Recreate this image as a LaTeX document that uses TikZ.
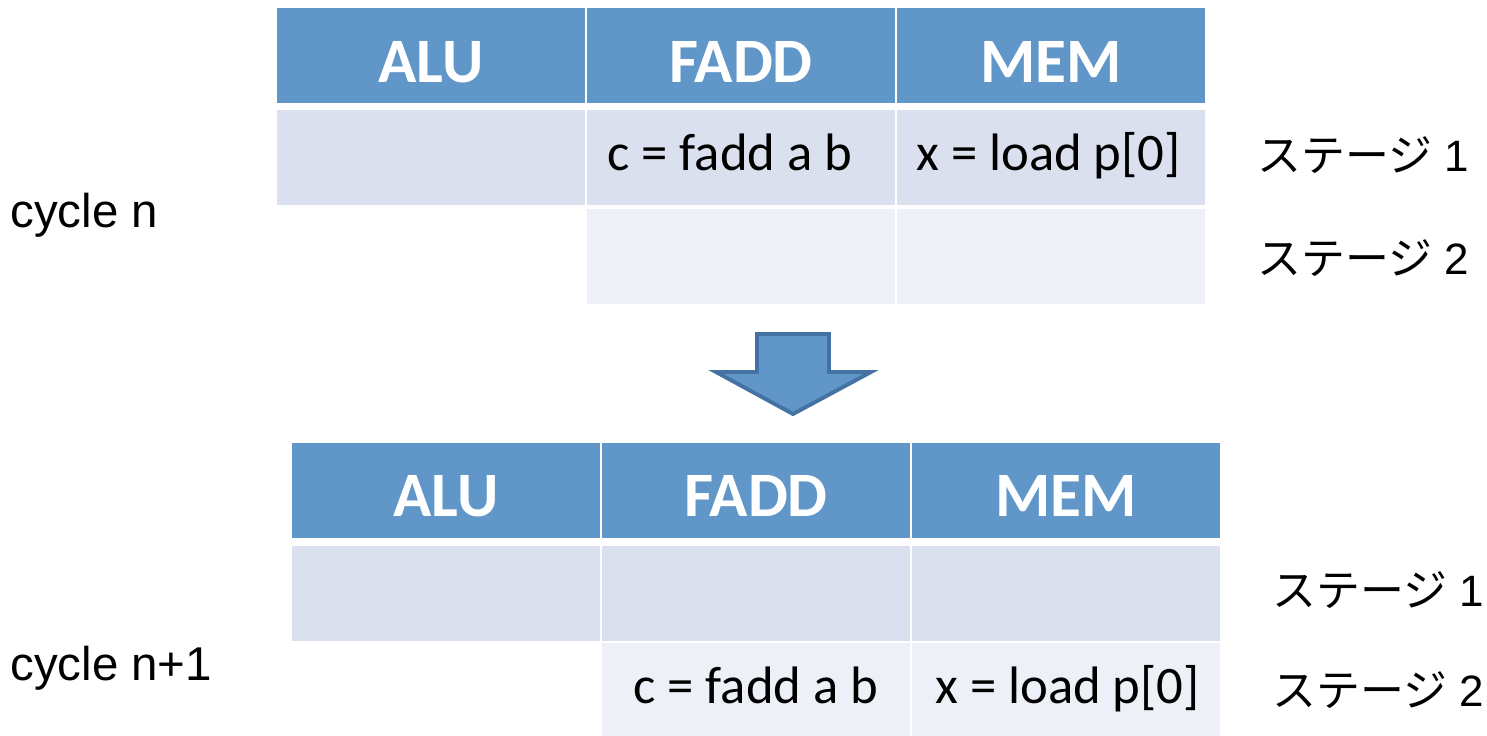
\documentclass[tikz,border=0pt]{standalone}
\usepackage{fontspec}
\setmainfont{Carlito}
\newfontfamily\jpfont{Noto Sans CJK JP}
\newfontfamily\arialfont{Liberation Sans}
\usepackage{tikz}
\usetikzlibrary{positioning}

\definecolor{HeadBlue}{RGB}{96,150,200}
\definecolor{RowDark}{RGB}{218,224,237}
\definecolor{RowLight}{RGB}{237,240,246}
\definecolor{ArrowEdge}{RGB}{68,114,163}

\tikzset{
  cell/.style={minimum width=6.16cm, minimum height=1.9cm, inner sep=0pt},
  head/.style={cell, fill=HeadBlue, text=white, text height=1.06cm, text depth=0pt,
    font=\fontsize{36}{41}\selectfont\bfseries},
  rowa/.style={cell, fill=RowDark},
  rowb/.style={cell, fill=RowLight},
  code/.style={anchor=base west, inner sep=0pt, font=\fontsize{30}{36}\selectfont},
  cyc/.style={anchor=base west, inner sep=0pt, font=\arialfont\fontsize{27}{32}\selectfont},
  stage/.style={anchor=base west, inner sep=0pt, font=\arialfont\fontsize{25}{30}\selectfont}
}
\newcommand{\stagename}[1]{{\jpfont ステージ}\ #1}

\begin{document}
\begin{tikzpicture}[x=0.02cm, y=-0.02cm]
    \useasboundingbox (0,0) rectangle (1487,735);

    %% cycle n
    \node[head] (ta) at (431,55.5) {ALU};
    \node at (ta) [head, xshift=6.2cm] (tf) {FADD};
    \node at (tf) [head, xshift=6.2cm] (tm) {MEM};
    \node at (ta) [rowa, yshift=-2.05cm] (ta1) {};
    \node at (tf) [rowa, yshift=-2.05cm] (tf1) {};
    \node at (tm) [rowa, yshift=-2.05cm] (tm1) {};
    \node at (tf1) [rowb, yshift=-1.97cm] (tf2) {};
    \node at (tm1) [rowb, yshift=-1.97cm] (tm2) {};
    \node[code] (tfadd) at (607,170) {c = fadd a b};
    \node[code] (tload) at (916,170) {x = load p[0]};
    \node[cyc] (cyc1) at (10,227) {cycle n};
    \node[stage] (ts1) at (1257,171) {\stagename{1}};
    \node[stage] (ts2) at (1257,274) {\stagename{2}};

    %% cycle n+1
    \node at (ta) [head, xshift=0.3cm, yshift=-8.7cm] (ba) {ALU};
    \node at (ba) [head, xshift=6.2cm] (bf) {FADD};
    \node at (bf) [head, xshift=6.2cm] (bm) {MEM};
    \node at (ba) [rowa, yshift=-2.06cm] (ba1) {};
    \node at (bf) [rowa, yshift=-2.06cm] (bf1) {};
    \node at (bm) [rowa, yshift=-2.06cm] (bm1) {};
    \node at (bf1) [rowb, yshift=-1.94cm] (bf2) {};
    \node at (bm1) [rowb, yshift=-1.94cm] (bm2) {};
    \node[code] (bfadd) at (633,703) {c = fadd a b};
    \node[code] (bload) at (935,703) {x = load p[0]};
    \node[cyc] (cyc2) at (10,680) {cycle n+1};
    \node[stage] (bs1) at (1272,606) {\stagename{1}};
    \node[stage] (bs2) at (1272,706) {\stagename{2}};

    %% Arrow
    \draw [fill=HeadBlue, draw=ArrowEdge, line width=2.2pt, line join=miter]
      (757,334) -- (829,334) -- (829,372) -- (871,372) -- (793,414)
      -- (716,372) -- (757,372) -- cycle;
\end{tikzpicture}
\end{document}
